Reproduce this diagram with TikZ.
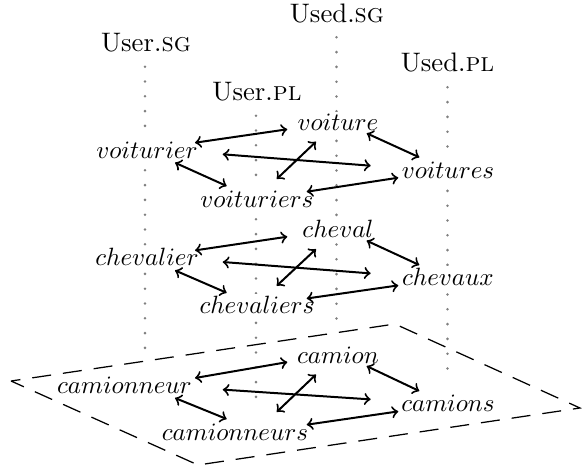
\documentclass[tikz,border=0pt]{standalone}
\usetikzlibrary{calc}
\newcommand\myarrowset[6]{%
 \draw[arr] ([shift={(48+#5,-15.3)}]#1.base) -- ([shift={(-50.7,-1.2)}]#3.base);
 \draw[arr] ([shift={(75.7+#5,-3.7)}]#1.base) -- ([shift={(-77.3,-12.3)}]#4.base);
 \draw[arr] ([shift={(28+#5,4.7)}]#1.base) -- ([shift={(-30.3+#6,-21)}]#2.base);
 \draw[arr] ([shift={(19.7+#6,-28)}]#2.base) -- ([shift={(-22,11.2)}]#3.base);
 \draw[arr] ([shift={(28.7,2.8)}]#3.base) -- ([shift={(-28.7,-20.7)}]#4.base);
 \draw[arr] ([shift={(49.7+#6,-15.3)}]#2.base) -- ([shift={(-49.7,-0.3)}]#4.base);
}
\begin{document}
\begin{tikzpicture}[x=0.4pt,y=-0.4pt,
  word/.style={fill=white,inner sep=1pt,anchor=base,font=\fontsize{10.2}{12}\selectfont},
  lab/.style={inner sep=1pt,anchor=base,font=\fontsize{10.7}{13}\selectfont},
  dotline/.style={draw=gray,line width=1.15pt,line cap=round,dash pattern=on 0pt off 5.92pt},
  plane/.style={draw=black,line width=0.5pt,dash pattern=on 7.6pt off 4.8pt,dash phase=3.8pt},
  arr/.style={<->,thick}]
\useasboundingbox (0,0) rectangle (582,468);
% plane
\coordinate (pl) at (11,381);
\coordinate (pt) at (395,324);
\coordinate (pr) at (580,408);
\coordinate (pb) at (198,465);
\draw[plane] (pl) -- (pt) -- (pr) -- (pb) -- cycle;
% column labels
\node[lab] (lusg) at (146,51.7) {User.\textsc{sg}};
\node[lab] (lupl) at (257,100) {User.\textsc{pl}};
\node[lab] (ldsg) at (337,22.7) {Used.\textsc{sg}};
\node[lab] (ldpl) at (447.5,71.7) {Used.\textsc{pl}};
% dotted columns
\coordinate (a1) at (145,66.7);   \coordinate (a2) at (145,362.7);
\coordinate (b1) at (256,115.7);  \coordinate (b2) at (256,411.7);
\coordinate (c1) at (336.5,37.3); \coordinate (c2) at (336.5,333.3);
\coordinate (d1) at (447.5,87.3); \coordinate (d2) at (447.5,383.3);
\draw[dotline] (a1) -- (a2);
\draw[dotline] (b1) -- (b2);
\draw[dotline] (c1) -- (c2);
\draw[dotline] (d1) -- (d2);
% level 1
\node[word] (voiturier)  at (147,158)   {$voiturier$};
\node[word] (voiture)    at (338,130.5) {$voiture$};
\node[word] (voitures)   at (448,178)   {$voitures$};
\node[word] (voituriers) at (257,207)   {$voituriers$};
% level 2
\node[word] (chevalier)  at (147,265.7) {$chevalier$};
\node[word] (cheval)     at (338,237.9) {$cheval$};
\node[word] (chevaux)    at (448,285.7) {$chevaux$};
\node[word] (chevaliers) at (257,313.8) {$chevaliers$};
% level 3
\node[word] (camionneur)  at (124.5,393.3) {$camionneur$};
\node[word] (camion)      at (338,363.3)   {$camion$};
\node[word] (camions)     at (448,411.7)   {$camions$};
\node[word] (camionneurs) at (235,440)     {$camionneurs$};
% arrows
\myarrowset{voiturier}{voituriers}{voiture}{voitures}{0}{0}
\myarrowset{chevalier}{chevaliers}{cheval}{chevaux}{0}{0}
\myarrowset{camionneur}{camionneurs}{camion}{camions}{22.5}{22}
\end{tikzpicture}
\end{document}
